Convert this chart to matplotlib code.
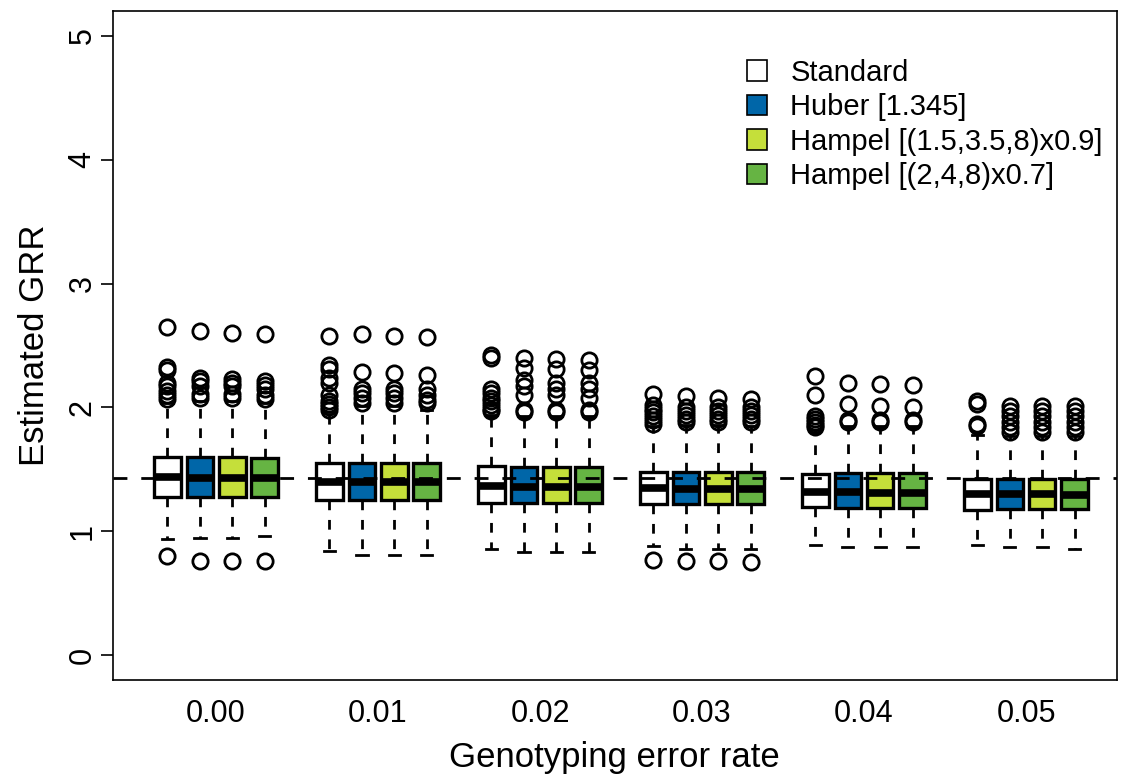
#!/usr/bin/env python3

import matplotlib
matplotlib.use("Agg")
import matplotlib.pyplot as plt
from matplotlib.patches import Patch

plt.rcParams["font.family"] = ["Liberation Sans", "DejaVu Sans"]

# Genotyping error rates (x groups)
rates = ["0.00", "0.01", "0.02", "0.03", "0.04", "0.05"]

methods = ["Standard", "Huber [1.345]", "Hampel [(1.5,3.5,8)x0.9]", "Hampel [(2,4,8)x0.7]"]
colors = ["#FFFFFF", "#0066A8", "#C5DF3A", "#66B443"]

# Box statistics, one list per method, one entry per rate
std_q1 = [1.28, 1.25, 1.23, 1.22, 1.20, 1.17]
std_med = [1.44, 1.40, 1.37, 1.35, 1.32, 1.30]
std_q3 = [1.60, 1.55, 1.53, 1.48, 1.46, 1.42]
std_lo = [0.94, 0.84, 0.86, 0.88, 0.89, 0.89]
std_hi = [2.04, 1.96, 1.94, 1.85, 1.82, 1.78]
std_out = [
    [0.80, 2.07, 2.10, 2.13, 2.17, 2.20, 2.30, 2.33, 2.65],
    [1.98, 2.00, 2.03, 2.05, 2.10, 2.20, 2.24, 2.31, 2.34, 2.58],
    [1.97, 1.99, 2.02, 2.05, 2.08, 2.12, 2.15, 2.40, 2.42],
    [0.77, 1.87, 1.90, 1.93, 1.96, 1.99, 2.02, 2.11],
    [1.84, 1.86, 1.88, 1.91, 1.93, 2.10, 2.25],
    [1.85, 1.87, 2.03, 2.05],
]

hub_q1 = [1.28, 1.25, 1.23, 1.22, 1.19, 1.18]
hub_med = [1.43, 1.40, 1.36, 1.34, 1.32, 1.30]
hub_q3 = [1.60, 1.55, 1.52, 1.48, 1.47, 1.42]
hub_lo = [0.95, 0.81, 0.83, 0.86, 0.87, 0.87]
hub_hi = [2.05, 2.01, 1.93, 1.86, 1.85, 1.77]
hub_out = [
    [0.76, 2.08, 2.11, 2.17, 2.21, 2.24, 2.62],
    [2.04, 2.08, 2.12, 2.15, 2.29, 2.59],
    [1.96, 1.98, 2.10, 2.17, 2.22, 2.32, 2.40],
    [0.76, 1.88, 1.91, 1.94, 1.97, 2.00, 2.09],
    [1.88, 1.90, 2.03, 2.20],
    [1.80, 1.84, 1.88, 1.93, 1.97, 2.01],
]

ham1_q1 = [1.28, 1.25, 1.23, 1.22, 1.19, 1.18]
ham1_med = [1.43, 1.40, 1.36, 1.34, 1.31, 1.30]
ham1_q3 = [1.60, 1.55, 1.52, 1.48, 1.47, 1.42]
ham1_lo = [0.95, 0.81, 0.83, 0.86, 0.87, 0.87]
ham1_hi = [2.05, 2.01, 1.93, 1.86, 1.85, 1.77]
ham1_out = [
    [0.76, 2.08, 2.11, 2.17, 2.20, 2.23, 2.60],
    [2.04, 2.08, 2.12, 2.15, 2.28, 2.58],
    [1.96, 1.98, 2.10, 2.15, 2.20, 2.31, 2.39],
    [0.76, 1.88, 1.91, 1.94, 1.97, 2.00, 2.08],
    [1.88, 1.90, 2.01, 2.19],
    [1.80, 1.84, 1.88, 1.93, 1.97, 2.01],
]

ham2_q1 = [1.28, 1.25, 1.23, 1.22, 1.19, 1.18]
ham2_med = [1.43, 1.40, 1.36, 1.34, 1.31, 1.29]
ham2_q3 = [1.59, 1.55, 1.52, 1.48, 1.47, 1.42]
ham2_lo = [0.96, 0.81, 0.83, 0.86, 0.87, 0.86]
ham2_hi = [2.04, 1.98, 1.93, 1.85, 1.85, 1.77]
ham2_out = [
    [0.76, 2.07, 2.10, 2.15, 2.18, 2.21, 2.59],
    [2.04, 2.06, 2.10, 2.15, 2.26, 2.57],
    [1.96, 1.98, 2.08, 2.15, 2.20, 2.30, 2.38],
    [0.75, 1.88, 1.91, 1.94, 1.97, 2.00, 2.07],
    [1.88, 1.90, 2.00, 2.18],
    [1.80, 1.84, 1.88, 1.93, 1.97, 2.01],
]

# Reference (true) GRR
true_grr = 1.43

series = [
    (std_q1, std_med, std_q3, std_lo, std_hi, std_out),
    (hub_q1, hub_med, hub_q3, hub_lo, hub_hi, hub_out),
    (ham1_q1, ham1_med, ham1_q3, ham1_lo, ham1_hi, ham1_out),
    (ham2_q1, ham2_med, ham2_q3, ham2_lo, ham2_hi, ham2_out),
]

fig = plt.figure(figsize=(11.28, 7.76), dpi=100)
ax = fig.add_axes([0.1002, 0.1237, 0.8898, 0.8621])

for m, (q1, med, q3, lo, hi, out) in enumerate(series):
    stats = []
    pos = []
    for g in range(len(rates)):
        stats.append(dict(q1=q1[g], med=med[g], q3=q3[g],
                          whislo=lo[g], whishi=hi[g], fliers=out[g]))
        # 4 boxes per group, one empty slot between groups
        pos.append(1 + 5 * g + m)
    ax.bxp(stats, positions=pos, widths=0.82, patch_artist=True,
           showfliers=True, capwidths=0.35,
           boxprops=dict(facecolor=colors[m], edgecolor="black", linewidth=2.4),
           medianprops=dict(color="black", linewidth=5.5, solid_capstyle="butt"),
           whiskerprops=dict(color="black", linewidth=2.0, linestyle=(0, (3.5, 3.5))),
           capprops=dict(color="black", linewidth=2.0),
           flierprops=dict(marker="o", markerfacecolor="none", markeredgecolor="black",
                           markersize=11, markeredgewidth=2.0),
           manage_ticks=False)

ax.axhline(true_grr, color="black", linewidth=2.0, linestyle=(0, (5, 5)), zorder=5)

ax.set_xlim(-0.68, 30.3)
ax.set_ylim(-0.2, 5.2)
ax.set_xticks([2.5 + 5 * g for g in range(len(rates))])
ax.set_xticklabels(rates, fontsize=22)
ax.tick_params(axis="x", length=0, pad=14)
ax.set_yticks(range(6))
ax.set_yticklabels([str(i) for i in range(6)], fontsize=22, rotation=90, va="center")
ax.tick_params(axis="y", length=9, width=1.2, pad=2)
for s in ax.spines.values():
    s.set_linewidth(1.2)

ax.set_xlabel("Genotyping error rate", fontsize=25, labelpad=8)
ax.set_ylabel("Estimated GRR", fontsize=25, labelpad=12)

handles = [Patch(facecolor=c, edgecolor="black", linewidth=1.2) for c in colors]
ax.legend(handles, methods, loc="upper left", bbox_to_anchor=(0.605, 0.968),
          frameon=False, fontsize=21, handlelength=0.7, handleheight=0.7,
          handletextpad=0.8, labelspacing=0.22)

plt.savefig("out.png", format="png")
